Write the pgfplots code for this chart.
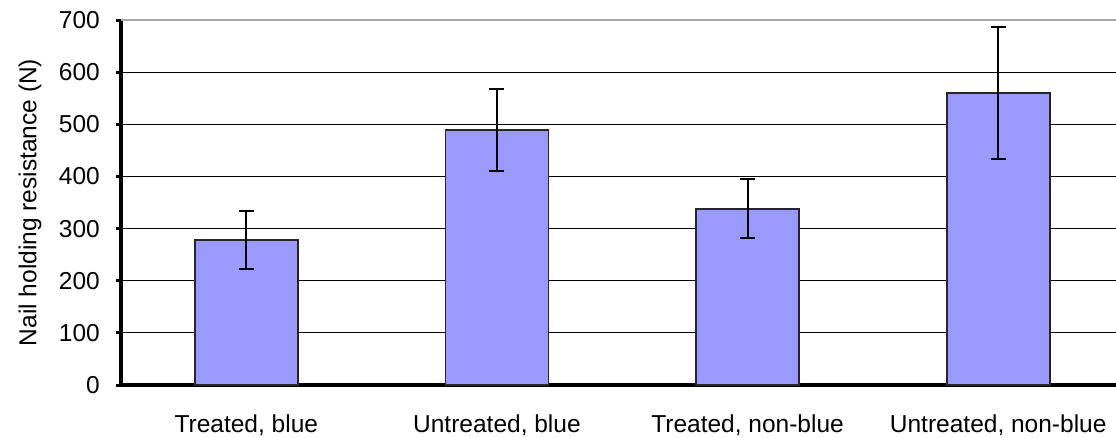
\documentclass[border=0pt]{standalone}
\usepackage{pgfplots}
\pgfplotsset{compat=1.18}
\usepackage{fontspec}
\setmainfont{Liberation Sans}
\definecolor{barblue}{RGB}{153,153,255}
\begin{document}
\begin{tikzpicture}
\begin{axis}[
  at={(0,0)}, anchor=south west,
  scale only axis,
  width=995pt, height=365pt,
  xmin=-0.5, xmax=3.47,
  ymin=0, ymax=700,
  ytick={0,100,...,700},
  xtick=data,
  xticklabels={{Treated, blue},{Untreated, blue},{Treated, non-blue},{Untreated, non-blue}},
  axis lines*=left,
  axis line style={line width=3.5pt, black},
  tick align=outside,
  major tick length=5pt,
  ytick style={line width=3pt, black},
  xtick style={draw=none},
  ymajorgrids,
  grid style={line width=1pt, black},
  /pgf/number format/assume math mode=true,
  yticklabel style={font=\fontsize{24.5}{28}\selectfont, anchor=east, inner sep=0pt, xshift=-16pt},
  xticklabel style={font=\fontsize{24.5}{28}\selectfont, anchor=base, inner sep=0pt, yshift=-42pt},
  ylabel={Nail holding resistance (N)},
  every axis y label/.style={at={(rel axis cs:0,0.5)}, xshift=-91pt, rotate=90, anchor=center, font=\fontsize{24.5}{28}\selectfont},
  clip=false,
]
\addplot[ybar, bar width=103pt, fill=barblue, draw=black!85, line width=1.6pt,
  error bars/.cd, y dir=both, y explicit,
  error bar style={line width=2pt, black},
  error mark options={rotate=90, mark size=7.5pt, line width=2pt, black}]
  table[x=x, y=y, y error=e] {
x y e
0 278 55
1 489 78
2 338 57
3 560 127
};
\draw[gray!70, line width=1.2pt] (axis cs:-0.5,700) -- (axis cs:3.47,700);
\end{axis}
\pgfresetboundingbox
\path[use as bounding box] (-121pt,-52pt) rectangle (995pt,385pt);
\end{tikzpicture}
\end{document}
